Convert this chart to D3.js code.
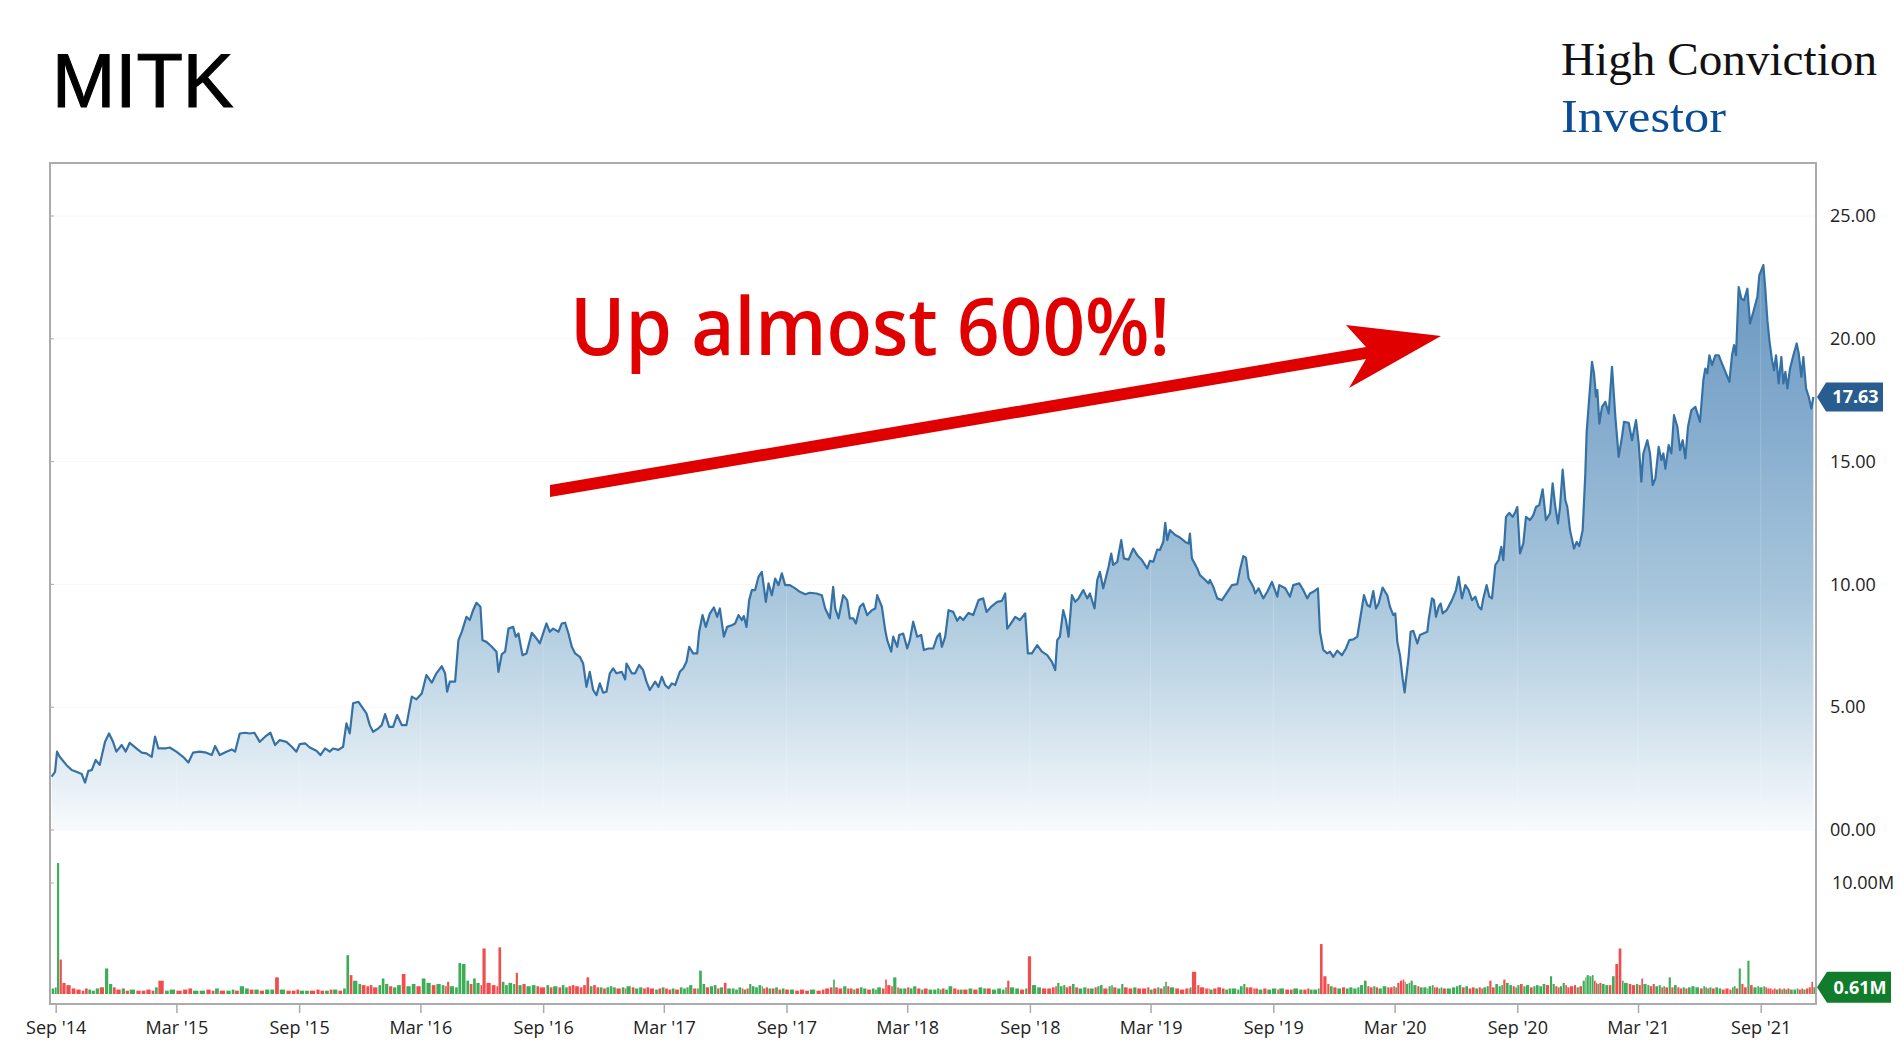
<!DOCTYPE html>
<html><head><meta charset="utf-8">
<script src="https://cdn.jsdelivr.net/npm/d3@7"></script>
<style>
html,body{margin:0;padding:0;background:#fff;}
svg{display:block;}
</style></head>
<body>
<svg id="chart" width="1900" height="1043"></svg>
<script>
// ---------------- DATA ----------------
// calendar days since 2014-09-01 for each sampled close
const seriesStart = "2014-09-01";
const dayOffsets = [
-6,-1,2,6,10,16,24,31,39,44,
49,54,60,66,74,80,86,91,99,105,
111,121,129,136,144,149,154,164,171,181,
191,199,206,216,226,234,239,246,256,264,
269,276,284,291,298,306,314,322,329,336,
346,354,361,366,374,381,391,397,404,411,
416,424,431,436,441,446,454,459,466,471,
476,484,489,494,500,506,512,519,526,534,
541,549,556,564,571,579,584,587,591,599,
604,609,616,621,626,631,637,640,
646,654,661,664,669,674,679,686,690,694,
700,706,714,721,726,736,741,746,754,759,
764,769,774,779,786,791,796,801,806,811,
816,821,826,831,836,841,849,854,856,864,
869,875,881,886,891,899,904,909,914,919,
924,929,936,941,946,950,956,962,965,970,
975,981,987,992,996,1002,1007,1014,1019,1024,
1029,1032,1036,1040,1044,1049,1054,1059,1061,1065,
1069,1074,1079,1084,1089,1094,1101,1109,1116,1124,
1131,1141,1149,1154,1161,1166,1169,1174,1181,1187,
1191,1196,1200,1206,1211,1217,1224,1229,1232,1239,
1244,1247,1253,1256,1262,1265,1271,1277,1281,1286,
1292,1298,1302,1309,1316,1322,1326,1329,1334,1339,
1346,1352,1356,
1361,1369,1376,1384,1391,1396,1404,1412,1419,1424,
1427,1431,1439,1446,1454,1458,1464,1472,1479,1487,
1494,1499,1502,1506,1511,1515,1519,1524,1529,1534,
1541,1547,1551,1558,1562,1566,1571,1579,1583,1586,
1592,1598,1602,1609,1616,1622,1629,1637,1641,1646,
1652,1656,1661,1664,1667,1671,1679,1686,1694,1699,
1701,1704,1712,1716,1724,1729,1731,1736,1742,1749,
1754,1759,1764,1772,1776,1781,1785,1789,1796,1799,
1804,1811,1817,1824,1832,1835,1844,1851,1856,1865,
1871,1877,1881,1886,1893,1896,1901,1907,1911,1916,
1922,1929,1935,1940,1946,1952,1956,1962,1967,1971,
1976,1980,1984,1990,1997,2001,2006,2009,2012,2016,
2020,2023,2025,2029,2032,2036,2042,2046,
2051,2057,2059,2064,2067,2070,2074,2077,2080,2086,
2094,2100,2104,2109,2114,2119,2124,2129,2134,2138,
2141,2146,2150,2154,2159,2164,2168,2171,2175,2180,
2185,2189,2192,2196,2201,2205,2211,2216,2220,2225,
2230,2235,2241,2245,2249,2253,2256,2260,2264,2267,
2271,2277,2281,2285,2290,2294,2296,2300,2304,2307,
2310,2312,2315,2319,2324,2329,2334,2339,2344,2349,
2352,2359,2364,2370,2374,2378,2381,2387,2391,2395,
2399,2404,2408,2411,2414,2419,2423,2427,2432,2436,
2440,2444,2448,2453,2459,2466,2471,2474,2477,2480,
2484,2489,2494,2499,2504,2510,2514,2517,2520,2524,
2528,2532,2537,2541,2546,2552,2555,2561,2564,2567,
2570,2574,2577,2580,2584,2588,2591,2594,2597,2601,
2606,2611,2614,2618,2621,2625,2629,2633,2636
];
// closing price, USD
const closes = [
2.17,2.37,3.19,2.98,2.85,2.65,2.44,2.37,2.28,1.93,
2.41,2.44,2.85,2.65,3.59,3.93,3.59,3.19,3.46,3.19,
3.55,3.32,3.15,3.12,2.98,3.80,3.32,3.32,3.36,3.19,
2.98,2.75,3.15,3.19,3.15,3.05,3.42,3.05,3.19,3.28,
3.19,3.93,3.96,3.93,3.96,3.59,3.80,3.96,3.46,3.66,
3.59,3.39,3.19,3.50,3.53,3.36,3.23,3.05,3.32,3.19,
3.32,3.26,3.39,4.34,3.93,5.16,5.22,5.02,4.75,4.27,
4.00,4.14,4.27,4.72,4.20,4.20,4.68,4.27,4.27,5.43,
5.32,5.56,6.31,6.00,6.38,6.67,6.38,5.63,6.04,6.04,
7.73,8.07,8.68,8.55,8.95,9.25,9.09,7.73,
7.66,7.46,7.26,6.44,7.16,7.26,8.20,8.27,7.87,8.00,
7.12,7.19,8.03,7.80,7.60,8.41,8.07,8.20,8.07,8.41,
8.44,8.00,7.46,7.19,7.05,6.78,5.83,6.44,5.70,5.49,
5.97,5.59,5.63,6.38,6.58,6.38,6.44,6.13,6.78,6.38,
6.38,6.72,6.51,6.04,5.70,6.04,5.83,6.24,5.90,5.77,
5.97,5.90,6.44,6.58,6.85,7.46,7.19,7.19,8.07,8.75,
8.27,8.81,9.06,8.68,9.02,7.87,8.27,8.34,8.41,8.75,
8.55,8.71,8.27,9.36,9.77,9.77,10.31,10.51,10.10,9.29,
10.04,9.56,10.24,9.97,10.45,9.97,9.97,9.84,9.70,9.60,
9.66,9.63,9.56,9.02,8.62,9.90,9.02,8.62,9.56,9.36,
8.62,8.62,8.41,9.09,9.22,8.75,8.95,9.02,9.56,9.09,
8.14,7.73,7.26,7.87,7.46,7.94,8.00,7.39,7.73,8.48,
7.87,7.94,7.33,7.39,7.39,7.87,8.00,7.46,7.87,8.95,
8.88,8.52,8.68,
8.55,8.84,8.75,9.36,9.43,8.88,9.12,9.29,9.33,9.63,
8.20,8.34,8.68,8.55,8.82,7.19,7.19,7.53,7.26,7.12,
6.85,6.51,7.73,7.87,8.95,8.55,7.87,9.56,9.29,9.43,
9.77,9.43,9.63,9.02,10.18,10.51,9.84,10.72,11.25,10.79,
10.92,11.80,11.06,11.01,11.46,11.19,10.99,10.65,10.96,10.92,
11.42,11.40,11.73,12.51,11.80,12.21,12.01,11.91,11.73,11.66,
12.07,11.06,10.65,10.38,10.18,10.04,10.18,9.90,9.43,9.36,
9.56,9.77,9.97,10.01,10.58,11.15,11.09,10.24,9.90,9.63,
9.84,9.43,9.70,10.10,9.50,9.97,9.84,9.50,9.97,10.04,
9.77,9.43,9.63,9.70,9.84,8.07,7.33,7.19,7.26,7.05,
7.30,7.12,7.39,7.73,7.76,7.87,8.55,9.56,9.16,9.09,
9.73,9.02,9.22,9.87,9.56,9.09,8.75,8.82,7.66,7.12,
6.17,5.60,6.11,7.05,8.07,8.11,7.60,7.94,
8.00,8.07,8.55,9.43,9.36,8.68,9.09,9.22,8.82,8.95,
9.36,9.77,10.31,9.43,9.97,9.77,9.36,9.50,9.09,8.98,
9.43,9.97,9.50,9.43,10.79,10.99,11.53,10.99,12.75,12.91,
12.75,12.95,13.15,11.26,11.67,12.75,12.62,12.82,13.15,13.23,
13.87,12.62,12.89,14.11,13.15,12.48,13.15,14.67,13.43,13.15,
12.21,11.46,11.73,11.56,12.21,14.51,16.21,17.64,19.06,18.59,
17.64,17.91,16.55,17.23,17.43,16.96,18.86,16.82,15.19,16.01,
16.62,16.58,15.87,16.69,15.74,14.18,15.33,15.87,15.33,14.04,
14.31,15.60,15.06,15.33,14.71,15.67,15.33,16.89,16.42,15.47,
15.87,15.13,16.42,17.09,17.23,16.62,18.32,18.79,18.59,19.33,
18.93,19.33,19.33,18.99,18.65,18.25,19.33,19.74,19.33,22.11,
21.63,21.57,22.04,20.62,21.10,21.71,22.59,23.00,21.98,20.76,
19.94,19.13,18.72,19.33,18.18,19.26,18.18,18.65,17.98,18.79,
19.33,19.81,19.40,18.45,19.26,17.98,17.64,17.16,17.63
];
// traded volume, millions of shares
const volumesM = [
0.5,0.6,11.8,3.1,1.0,0.8,0.5,0.4,0.3,0.5,
0.4,0.3,0.5,0.6,2.3,0.9,0.6,0.4,0.5,0.3,
0.4,0.3,0.3,0.4,0.3,0.6,1.2,0.3,0.4,0.3,
0.4,0.5,0.3,0.3,0.4,0.3,0.5,0.3,0.3,0.4,
0.3,0.7,0.5,0.4,0.4,0.3,0.4,0.4,1.5,0.4,
0.3,0.3,0.4,0.3,0.3,0.3,0.4,0.3,0.3,0.4,
0.4,0.3,0.5,3.5,1.7,1.2,0.9,0.8,0.7,0.8,
0.6,0.8,1.4,0.9,0.7,0.6,0.8,1.8,0.7,0.9,
0.7,1.4,1.0,0.8,0.9,0.8,0.7,1.1,0.7,0.6,
2.8,2.7,1.2,0.9,1.4,1.0,0.8,4.1,
1.0,0.8,0.7,4.2,1.1,0.8,1.0,0.9,1.9,0.8,
0.9,0.7,0.8,0.7,0.6,0.8,0.6,0.7,0.6,0.8,
0.6,0.7,0.8,0.7,0.6,0.8,1.5,0.7,0.8,0.6,
0.6,0.5,0.6,0.7,0.6,0.5,0.6,0.5,0.7,0.6,
0.5,0.6,0.5,0.6,0.5,0.4,0.5,0.6,0.5,0.4,
0.5,0.4,0.6,0.5,0.6,0.8,0.5,0.5,2.1,0.9,
0.6,0.7,0.8,0.5,0.6,1.0,0.5,0.5,0.4,0.6,
0.5,0.4,0.5,0.9,0.7,0.6,0.8,0.7,0.5,0.6,
0.5,0.5,0.6,0.4,0.5,0.4,0.4,0.3,0.4,0.3,
0.4,0.3,0.4,0.5,0.6,1.3,0.6,0.5,0.7,0.5,
0.5,0.4,0.5,0.6,0.5,0.4,0.5,0.4,0.6,0.5,
1.3,0.8,0.7,1.5,0.6,0.5,0.5,0.6,0.5,0.7,
0.5,0.4,0.5,0.4,0.4,0.5,0.4,0.5,0.4,0.7,
0.5,0.4,0.4,
0.4,0.5,0.4,0.6,0.5,0.5,0.4,0.5,0.4,0.6,
1.2,0.6,0.5,0.4,0.5,3.4,0.8,0.6,0.5,0.5,
0.6,0.7,1.0,0.7,0.8,0.6,0.7,0.9,0.6,0.5,
0.6,0.5,0.5,0.6,0.7,0.8,0.5,0.7,0.8,0.6,
0.5,0.9,0.6,0.5,0.6,0.5,0.5,0.6,0.4,0.5,
0.6,0.5,0.7,1.1,0.7,0.6,0.5,0.4,0.5,0.5,
0.6,2.0,0.8,0.6,0.5,0.5,0.4,0.5,0.6,0.5,
0.4,0.5,0.5,0.4,0.7,0.9,0.6,0.6,0.5,0.5,
0.4,0.5,0.4,0.5,0.4,0.5,0.4,0.4,0.5,0.4,
0.4,0.5,0.4,0.4,0.5,4.5,1.6,0.9,0.7,0.6,
0.5,0.6,0.5,0.6,0.5,0.6,0.8,1.2,0.7,0.6,
0.7,0.6,0.5,0.7,0.6,0.6,0.7,0.6,1.0,1.2,
1.3,1.1,0.9,1.0,1.2,0.8,0.7,0.6,
0.6,0.5,0.7,0.8,0.6,0.6,0.5,0.6,0.5,0.5,
0.6,0.7,0.8,0.6,0.7,0.5,0.6,0.5,0.6,0.5,
0.6,0.7,1.2,0.6,0.9,0.7,0.8,1.3,1.0,0.8,
0.7,0.6,0.8,0.9,0.7,0.8,0.6,0.7,0.8,0.7,
0.9,0.8,1.6,0.9,0.7,0.6,0.7,1.0,0.8,0.6,
0.7,0.8,0.6,0.7,1.2,1.5,1.7,1.6,1.7,1.2,
1.0,0.9,1.0,0.9,0.8,0.8,1.6,2.7,4.1,1.2,
1.0,0.9,0.8,0.9,0.8,1.4,0.9,0.8,0.7,0.9,
0.7,0.8,0.6,0.7,0.6,1.5,0.6,0.8,0.6,0.5,
0.6,0.5,0.6,0.7,0.6,0.5,0.7,0.6,0.5,0.6,
0.5,0.6,0.5,0.4,0.5,0.4,0.6,0.7,0.5,2.3,
0.9,0.6,3.0,0.8,0.6,0.7,0.6,0.7,0.6,0.5,
0.5,0.4,0.5,0.4,0.5,0.4,0.5,0.4,0.5,0.4,
0.4,0.5,0.4,0.5,0.4,0.5,0.6,1.1,0.61
];
const priceTicks = [0, 5, 10, 15, 20, 25];
const priceTickLabels = ["00.00", "5.00", "10.00", "15.00", "20.00", "25.00"];
const volumeTicks = [10];
const volumeTickLabels = ["10.00M"];
const xTickDates = ["2014-09-01","2015-03-01","2015-09-01","2016-03-01","2016-09-01",
  "2017-03-01","2017-09-01","2018-03-01","2018-09-01","2019-03-01","2019-09-01",
  "2020-03-01","2020-09-01","2021-03-01","2021-09-01"];
const xTickLabels = ["Sep '14","Mar '15","Sep '15","Mar '16","Sep '16","Mar '17","Sep '17",
  "Mar '18","Sep '18","Mar '19","Sep '19","Mar '20","Sep '20","Mar '21","Sep '21"];
const tickerTitle = "MITK";
const brandLine1 = "High Conviction";
const brandLine2 = "Investor";
const annotationText = "Up almost 600%!";
const lastPriceText = "17.63";
const lastVolumeText = "0.61M";

// ---------------- CHART ----------------
const parse = d3.timeParse("%Y-%m-%d");
const start = parse(seriesStart);
const n = Math.min(dayOffsets.length, closes.length, volumesM.length);
const rows = d3.range(n).map(i => ({
  date: d3.timeDay.offset(start, dayOffsets[i]),
  close: closes[i],
  vol: volumesM[i],
  up: i === 0 ? true : closes[i] >= closes[i - 1]
}));

const svg = d3.select("#chart");
const frame = {left: 50, top: 163, right: 1816, bottom: 1004};

const x = d3.scaleTime()
  .domain([parse(xTickDates[0]), parse(xTickDates[xTickDates.length - 1])])
  .range([55.7, 1760.7]);
const yP = d3.scaleLinear().domain([0, 25]).range([830, 216]);
const yV = d3.scaleLinear().domain([0, 10]).range([994, 883]);

const defs = svg.append("defs");
defs.append("clipPath").attr("id", "plotClip").append("rect")
  .attr("x", frame.left + 1).attr("y", frame.top + 1)
  .attr("width", frame.right - frame.left - 2).attr("height", frame.bottom - frame.top - 2);
const grad = defs.append("linearGradient").attr("id", "areaGrad")
  .attr("gradientUnits", "userSpaceOnUse")
  .attr("x1", 0).attr("x2", 0).attr("y1", yP(23.5)).attr("y2", yP(0));
[[0, "#6795bf"], [0.3, "#85acce"], [0.6, "#a9c7dc"], [0.8, "#cfe0ec"], [0.93, "#e9f1f7"], [1, "#f8fbfd"]]
  .forEach(([o, c]) => grad.append("stop").attr("offset", o).attr("stop-color", c));

// titles
svg.append("text").attr("x", 52).attr("y", 107)
  .attr("font-family", "Liberation Sans, Arial, sans-serif").attr("font-size", 76)
  .attr("fill", "#000").attr("stroke", "#000").attr("stroke-width", 1.1)
  .text(tickerTitle);
svg.append("text").attr("x", 1561).attr("y", 75)
  .attr("font-family", "Liberation Serif, Times New Roman, serif").attr("font-size", 47)
  .attr("fill", "#111").attr("textLength", 316).attr("lengthAdjust", "spacingAndGlyphs")
  .text(brandLine1);
svg.append("text").attr("x", 1561).attr("y", 132)
  .attr("font-family", "Liberation Serif, Times New Roman, serif").attr("font-size", 47)
  .attr("fill", "#0b4c97").attr("textLength", 165).attr("lengthAdjust", "spacingAndGlyphs")
  .text(brandLine2);

const plot = svg.append("g").attr("clip-path", "url(#plotClip)");

// faint grid
plot.append("g").selectAll("line").data(priceTicks).join("line")
  .attr("x1", frame.left).attr("x2", frame.right)
  .attr("y1", d => yP(d)).attr("y2", d => yP(d))
  .attr("stroke", "#f8f8f8").attr("stroke-width", 1);

// area + line
const area = d3.area().x(d => x(d.date)).y0(yP(0)).y1(d => yP(d.close));
const line = d3.line().x(d => x(d.date)).y(d => yP(d.close));
plot.append("path").datum(rows).attr("d", area).attr("fill", "url(#areaGrad)");
plot.append("g").selectAll("line").data(xTickDates).join("line")
  .attr("x1", d => x(parse(d))).attr("x2", d => x(parse(d)))
  .attr("y1", frame.top).attr("y2", frame.bottom)
  .attr("stroke", "#ffffff").attr("stroke-opacity", 0.18).attr("stroke-width", 1);
plot.append("path").datum(rows).attr("d", line)
  .attr("fill", "none").attr("stroke", "#3671a5").attr("stroke-width", 2.2)
  .attr("stroke-linejoin", "round");

// volume bars
plot.append("g").selectAll("rect").data(rows).join("rect")
  .attr("x", d => x(d.date))
  .attr("width", (d, i) => {
    const x0 = x(d.date);
    const x1 = i < n - 1 ? x(rows[i + 1].date) : x0 + 2.5;
    return Math.max(1, (x1 - x0) * 0.8);
  })
  .attr("y", d => yV(d.vol))
  .attr("height", d => yV(0) - yV(d.vol))
  .attr("fill", d => d.up ? "#2aa345" : "#ee3b3b")
  .attr("fill-opacity", 0.9);

// frame
svg.append("rect").attr("x", frame.left).attr("y", frame.top)
  .attr("width", frame.right - frame.left).attr("height", frame.bottom - frame.top)
  .attr("fill", "none").attr("stroke", "#ababab").attr("stroke-width", 2);

// left-border ticks
svg.append("g").selectAll("line").data(priceTicks.map(yP).concat(volumeTicks.map(yV))).join("line")
  .attr("x1", frame.left).attr("x2", frame.left + 4).attr("y1", d => d).attr("y2", d => d)
  .attr("stroke", "#ababab").attr("stroke-width", 1);

const labelFont = "Open Sans, Noto Sans, sans-serif";

// x axis
const xAxis = d3.axisBottom(x)
  .tickValues(xTickDates.map(parse))
  .tickFormat((d, i) => xTickLabels[i])
  .tickSize(9).tickPadding(8);
const gx = svg.append("g").attr("transform", `translate(0,${frame.bottom})`).call(xAxis);
gx.select(".domain").remove();
gx.selectAll(".tick line").attr("stroke", "#ababab").attr("stroke-width", 1.5);
gx.selectAll(".tick text").attr("font-family", labelFont).attr("font-size", 18)
  .attr("font-weight", 500).attr("fill", "#222");

// right price axis
const yAxis = d3.axisRight(yP).tickValues(priceTicks)
  .tickFormat((d, i) => priceTickLabels[i]).tickSize(0).tickPadding(14);
const gy = svg.append("g").attr("transform", `translate(${frame.right},0)`).call(yAxis);
gy.select(".domain").remove();
gy.selectAll(".tick text").attr("font-family", labelFont).attr("font-size", 18)
  .attr("font-weight", 500).attr("fill", "#222");

// right volume axis
const vAxis = d3.axisRight(yV).tickValues(volumeTicks)
  .tickFormat((d, i) => volumeTickLabels[i]).tickSize(0).tickPadding(16);
const gv = svg.append("g").attr("transform", `translate(${frame.right},0)`).call(vAxis);
gv.select(".domain").remove();
gv.selectAll(".tick text").attr("font-family", labelFont).attr("font-size", 18)
  .attr("font-weight", 500).attr("fill", "#222");

// last value flags
function flag(yc, x0, x1, h, color, text, fs) {
  const tip = frame.right + 1, neck = x0;
  const g = svg.append("g");
  g.append("path")
    .attr("d", `M${tip},${yc} L${neck},${yc - h / 2} L${x1},${yc - h / 2} L${x1},${yc + h / 2} L${neck},${yc + h / 2} Z`)
    .attr("fill", color);
  g.append("text").attr("x", (neck + x1) / 2 + 1).attr("y", yc).attr("dy", "0.36em")
    .attr("text-anchor", "middle").attr("font-family", labelFont).attr("font-weight", 700)
    .attr("font-size", fs).attr("fill", "#fff").text(text);
}
const last = rows[n - 1];
flag(yP(last.close), 1826, 1883, 29, "#2a5d8f", lastPriceText, 18);
flag(yV(last.vol), 1827, 1891, 31, "#117c2b", lastVolumeText, 18);

// annotation
svg.append("text").attr("x", 570).attr("y", 355)
  .attr("font-family", "Open Sans, sans-serif").attr("font-size", 79).attr("font-weight", 600)
  .attr("textLength", 600).attr("lengthAdjust", "spacingAndGlyphs")
  .attr("fill", "#e00000").text(annotationText);
svg.append("polygon")
  .attr("points", [[550,485],[1366,347],[1346,325],[1441,336],[1349,388],[1366,359],[550,497]].map(p => p.join(",")).join(" "))
  .attr("fill", "#e00000");
</script>
</body></html>
